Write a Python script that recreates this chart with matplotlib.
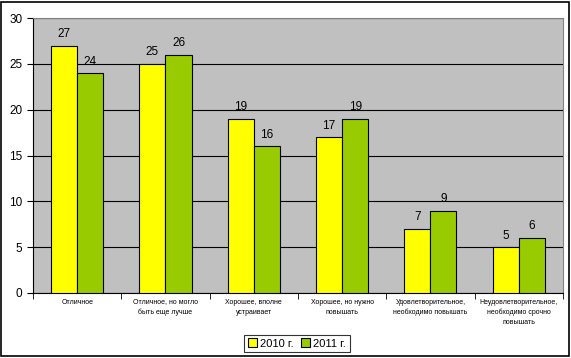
import numpy as np
import matplotlib
matplotlib.use("Agg")
import matplotlib.pyplot as plt
from matplotlib.patches import Rectangle

plt.rcParams['font.family'] = ['Liberation Sans', 'DejaVu Sans']

categories = ["Отличное", "Отличное, но могло\nбыть еще лучше", "Хорошее, вполне\nустраивает",
              "Хорошее, но нужно\nповышать", "Удовлетворительное,\nнеобходимо повышать",
              "Неудовлетворительное,\nнеобходимо срочно\nповышать"]
v2010 = [27, 25, 19, 17, 7, 5]
v2011 = [24, 26, 16, 19, 9, 6]
yticks = [0, 5, 10, 15, 20, 25, 30]

fig = plt.figure(figsize=(5.71, 3.58), dpi=100)
ax = fig.add_axes([0.0578, 0.1816, 0.928, 0.768])
ax.set_facecolor('#C0C0C0')

x = np.arange(len(categories))
w = 0.295
b1 = ax.bar(x - w / 2, v2010, w, color='#FFFF00', edgecolor='black', linewidth=0.8, label='2010 г.', zorder=3)
b2 = ax.bar(x + w / 2, v2011, w, color='#99CC00', edgecolor='black', linewidth=0.8, label='2011 г.', zorder=3)
for bars, vals in ((b1, v2010), (b2, v2011)):
    for r, v in zip(bars, vals):
        ax.text(r.get_x() + r.get_width() / 2, v + 0.6, str(v), ha='center', va='bottom', fontsize=8.5)

ax.set_xlim(-0.5, len(categories) - 0.5)
ax.set_ylim(0, 30)
ax.set_yticks(yticks)
ax.yaxis.grid(True, color='black', linewidth=0.8, zorder=0)
ax.set_axisbelow(True)
ax.tick_params(axis='y', labelsize=8.5, length=4, direction='out')

ax.set_xticks(x)
ax.set_xticklabels(categories, fontsize=5, linespacing=1.6)
ax.tick_params(axis='x', length=0, pad=4)
ax.set_xticks(np.arange(-0.5, len(categories)), minor=True)
ax.tick_params(axis='x', which='minor', length=4, direction='out')

for s in ('top', 'right'):
    ax.spines[s].set_color('#808080')
for s in ('left', 'bottom'):
    ax.spines[s].set_color('black')

leg = fig.legend(loc='lower center', bbox_to_anchor=(0.52, 0.0155), ncol=2, fontsize=8,
                 frameon=True, fancybox=False, edgecolor='black', handlelength=0.8, handleheight=0.8,
                 handletextpad=0.3, columnspacing=0.6, borderpad=0.35, borderaxespad=0)
leg.get_frame().set_linewidth(0.8)

fig.patches.append(Rectangle((0.002, 0.006), 0.994, 0.988, transform=fig.transFigure,
                             fill=False, edgecolor='black', linewidth=1.2))

fig.savefig('out.png', dpi=100)
